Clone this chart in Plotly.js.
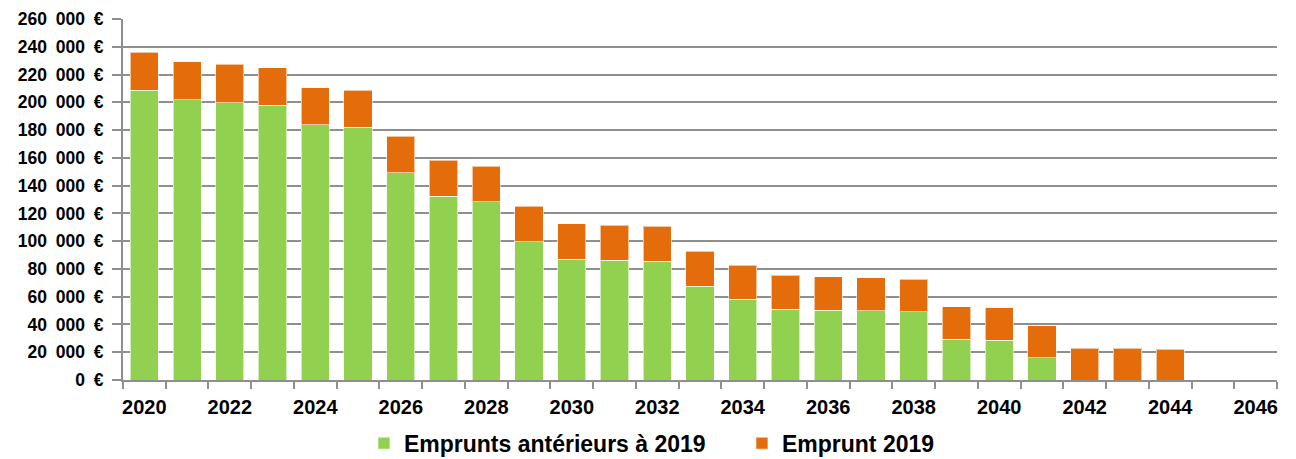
<!DOCTYPE html>
<html>
<head>
<meta charset="utf-8">
<script src="https://cdn.plot.ly/plotly-3.0.1.min.js"></script>
<style>html,body{margin:0;padding:0;background:#fff;}#chart{width:1296px;height:459px;}</style>
</head>
<body>
<div id="chart"></div>
<script>
const years = [2020,2021,2022,2023,2024,2025,2026,2027,2028,2029,2030,2031,2032,2033,2034,2035,2036,2037,2038,2039,2040,2041,2042,2043,2044,2045,2046];
const empruntsAnterieurs = [208600,201700,199700,198000,183700,182200,149300,132300,128400,99600,87100,86400,85700,67700,58100,51100,50400,49900,49200,29500,28800,16100,0,0,0,0,0];
const emprunt2019 = [27600,27500,27700,26900,26800,26400,26400,26100,25700,25700,25500,25000,25000,25000,24500,24300,24000,23600,23500,23300,23100,22800,22800,22800,22300,0,0];
const seriesNames = ["Emprunts antérieurs à 2019", "Emprunt 2019"];

const fam = "Liberation Sans, Arial, sans-serif";
const grid = "#8f8f8f";

const traces = [
  {type: "bar", x: years, y: empruntsAnterieurs, name: seriesNames[0], width: 0.66,
   marker: {color: "#92D050", line: {color: "rgba(255,255,255,0.6)", width: 1}}, hoverinfo: "x+y"},
  {type: "bar", x: years, y: emprunt2019, name: seriesNames[1], width: 0.66,
   marker: {color: "#E46C0A", line: {color: "rgba(255,255,255,0.6)", width: 1}}, hoverinfo: "x+y"}
];

const layout = {
  width: 1296, height: 459,
  margin: {l: 123, r: 19, t: 19, b: 79, autoexpand: false},
  barmode: "stack",
  paper_bgcolor: "#fff", plot_bgcolor: "#fff",
  separators: ",\u2002",
  font: {family: fam, size: 17, color: "#000"},
  xaxis: {
    type: "linear", range: [2019.5, 2046.5], tick0: 2020, dtick: 2,
    tickformat: "d", ticks: "", showgrid: false, zeroline: false,
    showline: true, linecolor: grid, linewidth: 2,
    ticklabelstandoff: 8,
    tickfont: {family: fam, size: 20, color: "#000", weight: "bold"},
    minor: {tick0: 2019.5, dtick: 1, ticks: "outside", ticklen: 7, tickcolor: grid, tickwidth: 2, showgrid: false}
  },
  yaxis: {
    range: [0, 260000], dtick: 20000, tickformat: ",d", ticksuffix: "\u2002€",
    showgrid: true, gridcolor: grid, gridwidth: 2, zeroline: false,
    showline: true, linecolor: grid, linewidth: 2,
    ticks: "outside", ticklen: 9, tickcolor: grid, tickwidth: 2,
    ticklabelstandoff: 5,
    tickfont: {family: fam, size: 17.5, color: "#000", weight: "bold"}
  },
  legend: {
    orientation: "h", x: 0.2088, xanchor: "left", y: -0.175, yanchor: "middle",
    traceorder: "normal",
    font: {family: fam, size: 23, color: "#000", weight: "bold"},
    itemwidth: 30, tracegroupgap: 0,
    entrywidth: 333, entrywidthmode: "pixels"
  },
  showlegend: true
};

Plotly.newPlot("chart", traces, layout, {displayModeBar: false, staticPlot: true});
</script>
</body>
</html>
